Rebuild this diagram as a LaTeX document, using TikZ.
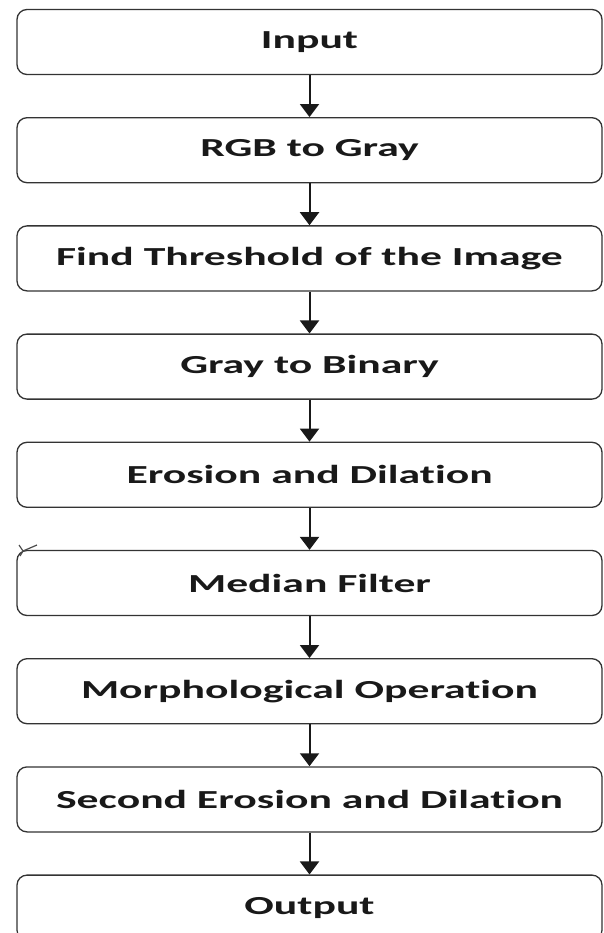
\documentclass[tikz,border=0pt]{standalone}
\usepackage{fontspec}
\newfontfamily\stagefont[FakeStretch=1.68, Ligatures=NoCommon]{Carlito}
\usetikzlibrary{positioning,arrows.meta}

\tikzset{
  stage/.style={draw=black!80, line width=1.3pt, rounded corners=10pt,
    minimum width=585pt, minimum height=65pt, inner sep=0pt,
    text=black!90, font=\stagefont\bfseries\fontsize{26}{30}\selectfont},
  flow/.style={-{Triangle[width=19pt,length=13pt]}, line width=2pt, black!90}
}

\begin{document}
\begin{tikzpicture}[node distance=41.9pt]
\useasboundingbox (0,0) rectangle (604pt,-933pt);

% processing stages
\node[stage] (input) at (309.5pt,-42pt) {Input};
\node[stage, below=of input] (gray) {RGB to Gray};
\node[stage, below=of gray] (thresh) {Find Threshold of the Image};
\node[stage, below=of thresh] (binary) {Gray to Binary};
\node[stage, below=of binary] (erode) {Erosion and Dilation};
\node[stage, below=of erode] (median) {Median Filter};
\node[stage, below=of median] (morph) {Morphological Operation};
\node[stage, below=of morph] (erode2) {Second Erosion and Dilation};
\node[stage, below=of erode2] (output) {Output};

% arrows
\foreach \a/\b in {input/gray, gray/thresh, thresh/binary, binary/erode,
                   erode/median, median/morph, morph/erode2, erode2/output}
  \draw[flow] (\a) -- (\b);

% stray mark
\draw[line width=1.2pt, black!70] (19pt,-545pt) -- (23pt,-551pt) -- (37pt,-545pt);
\draw[line width=1.2pt, black!70] (23pt,-551pt) -- (20pt,-556pt);
\end{tikzpicture}
\end{document}
